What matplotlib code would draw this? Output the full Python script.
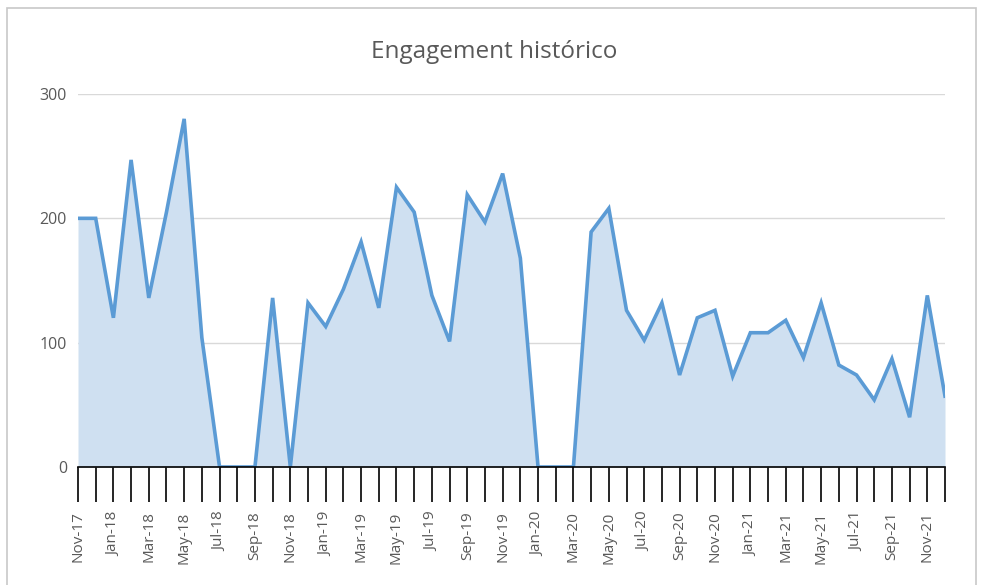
import matplotlib
matplotlib.use('Agg')
import matplotlib.pyplot as plt
from matplotlib.patches import Rectangle

# datos mensuales Nov-17 .. Dec-21
months = ['Nov-17', 'Dec-17',
          'Jan-18', 'Feb-18', 'Mar-18', 'Apr-18', 'May-18', 'Jun-18',
          'Jul-18', 'Aug-18', 'Sep-18', 'Oct-18', 'Nov-18', 'Dec-18',
          'Jan-19', 'Feb-19', 'Mar-19', 'Apr-19', 'May-19', 'Jun-19',
          'Jul-19', 'Aug-19', 'Sep-19', 'Oct-19', 'Nov-19', 'Dec-19',
          'Jan-20', 'Feb-20', 'Mar-20', 'Apr-20', 'May-20', 'Jun-20',
          'Jul-20', 'Aug-20', 'Sep-20', 'Oct-20', 'Nov-20', 'Dec-20',
          'Jan-21', 'Feb-21', 'Mar-21', 'Apr-21', 'May-21', 'Jun-21',
          'Jul-21', 'Aug-21', 'Sep-21', 'Oct-21', 'Nov-21', 'Dec-21']
engagement = [200, 200, 120, 247, 136, 205, 280, 104, 0, 0,
              0, 136, 0, 132, 113, 143, 181, 128, 225, 205,
              138, 101, 219, 197, 236, 168, 0, 0, 0, 189,
              208, 126, 102, 132, 74, 120, 126, 73, 108, 108,
              118, 88, 132, 82, 74, 54, 87, 40, 138, 57]
yticks = [0, 100, 200, 300]

x = list(range(len(months)))

plt.rcParams['font.family'] = ['Open Sans', 'DejaVu Sans']

fig = plt.figure(figsize=(9.84, 5.85), dpi=100)
fig.patches.append(Rectangle((7 / 984, -0.01), 969 / 984, 1 - 8 / 585 + 0.01,
                             transform=fig.transFigure, fill=False,
                             edgecolor='#c8c8c8', linewidth=1.2))

ax = fig.add_axes([78 / 984, 1 - 467 / 585, 867 / 984, 373 / 585])
ax.fill_between(x, engagement, 0, color='#cfe0f1', linewidth=0)
ax.plot(x, engagement, color='#5b9bd5', linewidth=2.6, solid_joinstyle='miter')

ax.set_xlim(0, len(months) - 1)
ax.set_ylim(0, 300)
ax.set_yticks(yticks)
ax.set_yticklabels([str(v) for v in yticks], color='#595959', fontsize=11.5)
ax.tick_params(axis='y', length=0, pad=8)
ax.grid(axis='y', color='#d9d9d9', linewidth=1)
ax.set_axisbelow(True)

ax.set_xticks(x)
ax.set_xticklabels([m if i % 2 == 0 else '' for i, m in enumerate(months)],
                   rotation=90, color='#595959', fontsize=11)
ax.tick_params(axis='x', length=25, width=1.2, color='black', direction='out', pad=7)

for s in ['top', 'right', 'left']:
    ax.spines[s].set_visible(False)
ax.spines['bottom'].set_color('black')
ax.spines['bottom'].set_linewidth(1.2)

fig.text(494 / 984, 1 - 52 / 585, 'Engagement histórico', ha='center', va='center',
         fontsize=17.5, color='#595959')

fig.savefig('out.png', dpi=100)
